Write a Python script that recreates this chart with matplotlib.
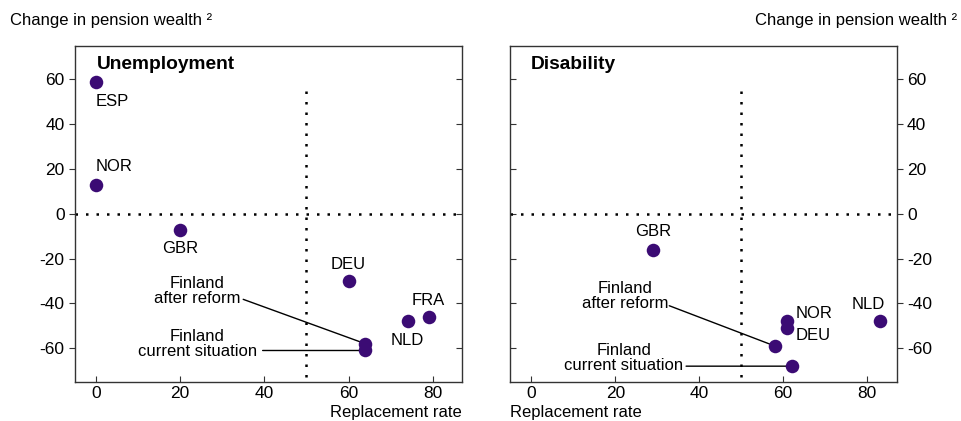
import matplotlib
matplotlib.use("Agg")
import matplotlib.pyplot as plt

plt.rcParams["font.family"] = ["Liberation Sans", "DejaVu Sans"]
plt.rcParams["axes.unicode_minus"] = False

DOT = "#3b0b74"
SPINE = "#333333"

# unemployment panel: replacement rate vs change in pension wealth
UNEMP_CODES = ["ESP", "NOR", "GBR", "DEU", "FRA", "NLD"]
UNEMP_RATE = [0, 0, 20, 60, 79, 74]
UNEMP_CHANGE = [59, 13, -7, -30, -46, -48]
UNEMP_FIN_RATE = [64, 64]        # after reform, current situation
UNEMP_FIN_CHANGE = [-58, -61]

# disability panel
DIS_CODES = ["GBR", "NOR", "DEU", "NLD"]
DIS_RATE = [29, 61, 61, 83]
DIS_CHANGE = [-16, -48, -51, -48]
DIS_FIN_RATE = [58, 62]
DIS_FIN_CHANGE = [-59, -68]

FIN_LABELS = ["Finland\nafter reform", "Finland\ncurrent situation"]
XTICKS = [0, 20, 40, 60, 80]
YTICKS = [-60, -40, -20, 0, 20, 40, 60]

# label offsets in points (text centre relative to the dot)
UNEMP_OFFS = {"ESP": (0, -14, "left"), "NOR": (0, 13, "left"), "GBR": (0, -14, "center"),
              "DEU": (0, 12, "center"), "FRA": (0, 12, "center"), "NLD": (0, -14, "center")}
DIS_OFFS = {"GBR": (0, 13, "center"), "NOR": (6, 6, "left"), "DEU": (6, -5, "left"),
            "NLD": (-8, 12, "center")}
UNEMP_FIN_OFFS = [((-121, 38), (-88, 32)), ((-121, 5), (-74, 0))]
DIS_FIN_OFFS = [((-108, 36), (-76, 29)), ((-121, 6), (-76, 0))]


def style_axes(ax, side):
    ax.set_xlim(-5, 87)
    ax.set_ylim(-75, 75)
    ax.set_xticks(XTICKS)
    ax.set_yticks(YTICKS)
    for s in ax.spines.values():
        s.set_color(SPINE)
        s.set_linewidth(1.0)
    ax.tick_params(axis="x", direction="in", length=4, labelsize=12.5, pad=3,
                   color=SPINE, top=False)
    other = "right" if side == "left" else "left"
    if side == "right":
        ax.yaxis.tick_right()
    ax.tick_params(axis="y", direction="out", length=4, labelsize=12.5, color=SPINE)
    # short inward ticks on the unlabelled side
    sec = ax.secondary_yaxis(other)
    sec.set_yticks(YTICKS, labels=[])
    sec.tick_params(direction="in", length=4, color=SPINE)
    sec.spines[other].set_visible(False)
    ax.axhline(0, color="black", lw=1.8, ls=(0, (1, 3.2)), zorder=1)
    ax.plot([50, 50], [55, -75], color="black", lw=1.8, ls=(0, (1, 3.2)), zorder=1)


def draw_panel(ax, codes, rate, change, offs, fin_rate, fin_change, fin_offs):
    ax.scatter(rate, change, s=95, color=DOT, zorder=4, linewidths=0)
    ax.scatter(fin_rate, fin_change, s=95, color=DOT, zorder=4, linewidths=0)
    for code, x, y in zip(codes, rate, change):
        dx, dy, ha = offs[code]
        ax.annotate(code, (x, y), xytext=(dx, dy), textcoords="offset points",
                    ha=ha, va="center", fontsize=12)
    for lab, x, y, (toff, loff) in zip(FIN_LABELS, fin_rate, fin_change, fin_offs):
        ax.annotate(lab, (x, y), xytext=toff, textcoords="offset points",
                    ha="center", va="center", fontsize=12, linespacing=1.0)
        ax.annotate("", (x, y), xytext=loff, textcoords="offset points",
                    arrowprops=dict(arrowstyle="-", color="black", lw=1.0,
                                    shrinkA=0, shrinkB=0), zorder=3)


fig = plt.figure(figsize=(9.61, 4.21), dpi=100)
ax1 = fig.add_axes([0.078, 0.093, 0.403, 0.798])
ax2 = fig.add_axes([0.531, 0.093, 0.402, 0.798])

style_axes(ax1, "left")
style_axes(ax2, "right")

draw_panel(ax1, UNEMP_CODES, UNEMP_RATE, UNEMP_CHANGE, UNEMP_OFFS,
           UNEMP_FIN_RATE, UNEMP_FIN_CHANGE, UNEMP_FIN_OFFS)
draw_panel(ax2, DIS_CODES, DIS_RATE, DIS_CHANGE, DIS_OFFS,
           DIS_FIN_RATE, DIS_FIN_CHANGE, DIS_FIN_OFFS)

ax1.text(0.057, 0.945, "Unemployment", transform=ax1.transAxes, fontsize=13.8,
         fontweight="bold", va="center", ha="left")
ax2.text(0.052, 0.945, "Disability", transform=ax2.transAxes, fontsize=13.8,
         fontweight="bold", va="center", ha="left")

fig.text(10 / 961, 1 - 20 / 421, "Change in pension wealth ²", fontsize=12,
         ha="left", va="center")
fig.text(957 / 961, 1 - 20 / 421, "Change in pension wealth ²", fontsize=12,
         ha="right", va="center")
fig.text(462 / 961, 1 - 413 / 421, "Replacement rate", fontsize=12,
         ha="right", va="center")
fig.text(510 / 961, 1 - 413 / 421, "Replacement rate", fontsize=12,
         ha="left", va="center")

fig.savefig("out.png", dpi=100)
